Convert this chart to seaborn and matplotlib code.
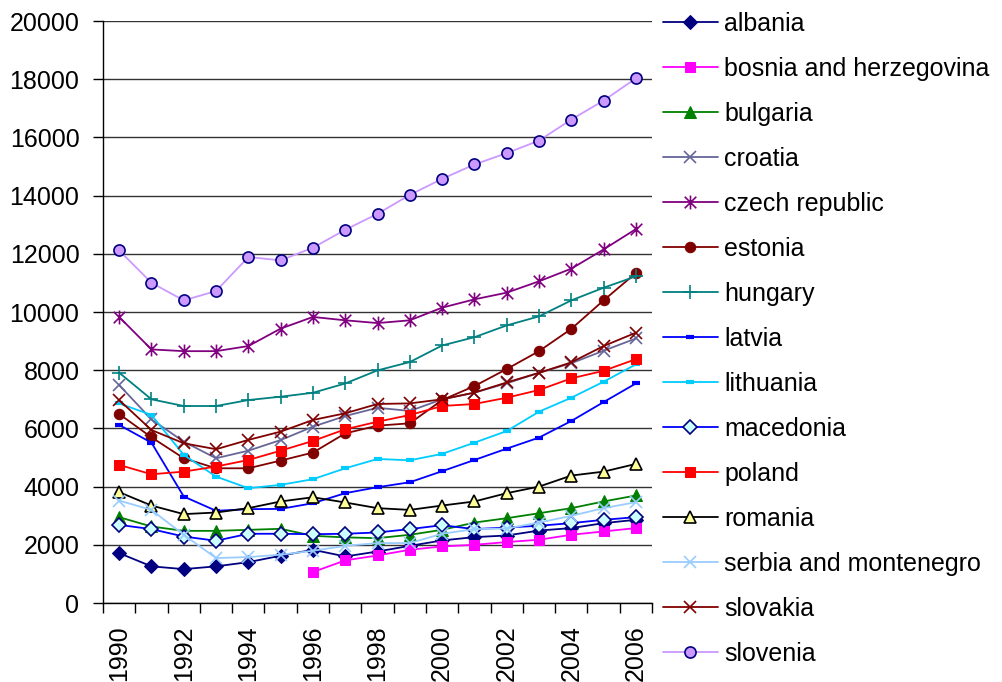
import numpy as np
import pandas as pd
import matplotlib
matplotlib.use("Agg")
from matplotlib import pyplot as plt
from matplotlib.path import Path
import seaborn as sns

sns.set_theme(style="ticks")
plt.rcParams["font.family"] = ["Liberation Sans", "DejaVu Sans"]
plt.rcParams["text.color"] = "black"
plt.rcParams["xtick.color"] = "black"
plt.rcParams["ytick.color"] = "black"
plt.rcParams["axes.labelcolor"] = "black"

years = list(range(1990, 2007))

albania = [1715, 1260, 1165, 1260, 1405, 1625, 1830, 1600, 1770, 1965, 2150, 2265, 2320, 2490, 2575, 2745, 2860]
bosnia_years = list(range(1996, 2007))
bosnia = [1065, 1465, 1635, 1830, 1945, 2000, 2095, 2175, 2345, 2460, 2575]
bulgaria = [2950, 2630, 2480, 2480, 2515, 2550, 2310, 2255, 2230, 2345, 2515, 2765, 2915, 3085, 3260, 3490, 3695]
croatia = [7490, 6310, 5545, 4975, 5235, 5600, 6060, 6425, 6710, 6600, 7000, 7230, 7550, 7910, 8240, 8670, 9090]
czech = [9830, 8715, 8655, 8655, 8830, 9430, 9830, 9715, 9620, 9715, 10150, 10435, 10665, 11055, 11490, 12150, 12850]
estonia = [6495, 5695, 4975, 4630, 4630, 4895, 5170, 5830, 6095, 6175, 6975, 7455, 8040, 8655, 9420, 10400, 11340]
hungary = [7915, 7000, 6770, 6770, 6975, 7090, 7225, 7545, 7995, 8280, 8850, 9135, 9540, 9850, 10400, 10835, 11225]
latvia = [6120, 5510, 3660, 3170, 3225, 3235, 3430, 3775, 3980, 4150, 4530, 4915, 5305, 5685, 6255, 6905, 7545]
lithuania = [6860, 6460, 5090, 4345, 3945, 4060, 4255, 4630, 4950, 4905, 5125, 5510, 5910, 6575, 7055, 7605, 8200]
macedonia = [2685, 2540, 2285, 2140, 2380, 2380, 2365, 2380, 2425, 2540, 2675, 2540, 2595, 2655, 2745, 2860, 2950]
poland = [4745, 4425, 4515, 4690, 4915, 5235, 5570, 5970, 6230, 6460, 6770, 6840, 7055, 7320, 7720, 7980, 8380]
romania = [3810, 3350, 3055, 3110, 3260, 3490, 3635, 3455, 3260, 3200, 3350, 3490, 3775, 4000, 4380, 4515, 4780]
serbia = [3520, 3200, 2345, 1545, 1580, 1660, 1795, 1965, 2060, 2060, 2380, 2540, 2560, 2765, 2995, 3260, 3465]
slovakia = [6975, 5945, 5490, 5285, 5605, 5890, 6290, 6520, 6840, 6860, 7000, 7230, 7580, 7910, 8270, 8830, 9290]
slovenia = [12115, 11005, 10400, 10720, 11890, 11775, 12210, 12825, 13375, 14025, 14575, 15070, 15460, 15890, 16615, 17265, 18030]

# excel style star: x plus a vertical bar
star = Path([(-1, -1), (1, 1), (-1, 1), (1, -1), (0, -1.2), (0, 1.2)],
            [Path.MOVETO, Path.LINETO, Path.MOVETO, Path.LINETO, Path.MOVETO, Path.LINETO])

series = [
    ("albania", years, albania, dict(color="#000080", marker="D", ms=7)),
    ("bosnia and herzegovina", bosnia_years, bosnia, dict(color="#FF00FF", marker="s", ms=7)),
    ("bulgaria", years, bulgaria, dict(color="#008000", marker="^", ms=8)),
    ("croatia", years, croatia, dict(color="#666699", marker="x", ms=8, mew=1.2)),
    ("czech republic", years, czech, dict(color="#800080", marker=star, ms=10, mew=1.2)),
    ("estonia", years, estonia, dict(color="#800000", marker="o", ms=7.5)),
    ("hungary", years, hungary, dict(color="#008080", marker="+", ms=10, mew=1.2)),
    ("latvia", years, latvia, dict(color="#0000FF", marker="_", ms=5.5, mew=3)),
    ("lithuania", years, lithuania, dict(color="#00CCFF", marker="_", ms=5.5, mew=3)),
    ("macedonia", years, macedonia, dict(color="#0000FF", marker="D", ms=7,
                                          markerfacecolor="#CCFFFF", markeredgecolor="#000080", mew=1.2)),
    ("poland", years, poland, dict(color="#FF0000", marker="s", ms=7)),
    ("romania", years, romania, dict(color="#000000", marker="^", ms=9,
                                      markerfacecolor="#FFFF99", markeredgecolor="#000000", mew=1.2)),
    ("serbia and montenegro", years, serbia, dict(color="#99CCFF", marker="x", ms=8, mew=1.2)),
    ("slovakia", years, slovakia, dict(color="#800000", marker="x", ms=8, mew=1.2)),
    ("slovenia", years, slovenia, dict(color="#CC99FF", marker="o", ms=8,
                                        markerfacecolor="#CC99FF", markeredgecolor="#000080", mew=1.2)),
]

fig = plt.figure(figsize=(10.03, 6.82), dpi=100)
ax = fig.add_axes([0.1027, 0.1158, 0.5474, 0.8534])

for name, xs, ys, style in series:
    df = pd.DataFrame({"year": xs, "value": ys})
    style = dict(style)
    style.setdefault("markeredgecolor", style["color"])
    sns.lineplot(data=df, x="year", y="value", ax=ax, label=name, lw=1.3,
                 errorbar=None, **style)

ax.set_xlim(1989.5, 2006.5)
ax.set_ylim(0, 20000)
ax.set_yticks(np.arange(0, 20001, 2000))
ax.set_xticks(years[::2])
ax.set_xticklabels([str(y) for y in years[::2]], rotation=90)
ax.set_xticks(np.arange(1989.5, 2007, 1), minor=True)
ax.tick_params(axis="x", which="major", length=0, pad=16, labelsize=18)
ax.tick_params(axis="x", which="minor", length=7, width=1, color="black", direction="out")
ax.tick_params(axis="y", length=7, width=1, color="black", direction="out", pad=10, labelsize=18)
ax.yaxis.grid(True, color="#333333", lw=1)
ax.set_axisbelow(True)
ax.set_xlabel("")
ax.set_ylabel("")
for s in ["top", "right"]:
    ax.spines[s].set_visible(False)
for s in ["left", "bottom"]:
    ax.spines[s].set_color("black")
    ax.spines[s].set_linewidth(1)

ax.get_legend().remove()
handles, labels = ax.get_legend_handles_labels()
fig.legend(handles, labels, loc="upper left", bbox_to_anchor=(0.661, 0.983),
           frameon=False, fontsize=18, handlelength=2.2, handletextpad=0.25,
           labelspacing=0.84, borderpad=0, borderaxespad=0, labelcolor="black")

fig.savefig("out.png", dpi=100)
